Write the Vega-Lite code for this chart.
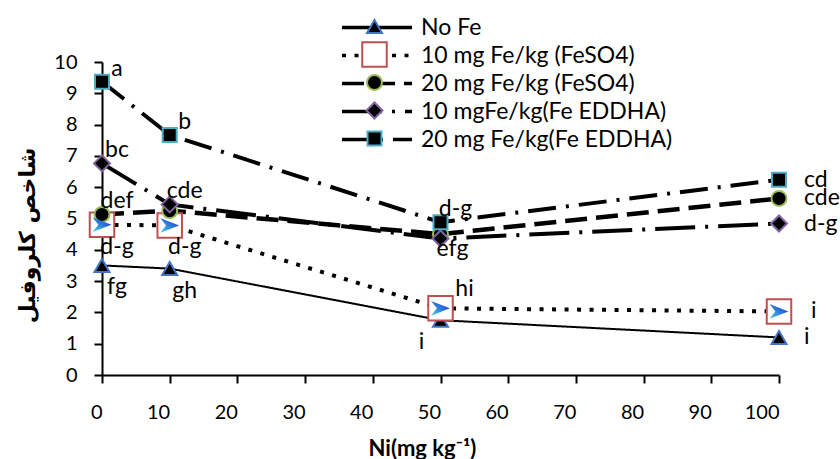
{
  "$schema": "https://vega.github.io/schema/vega-lite/v6.json",
  "width": 677,
  "height": 313,
  "autosize": {"type": "none"},
  "padding": {"left": 102, "top": 62, "right": 61, "bottom": 84},
  "background": "white",
  "config": {"view": {"stroke": null}, "font": "Lato"},
  "datasets": {
    "points": [
      {"series": "No Fe", "ni": 0, "value": 3.5},
      {"series": "No Fe", "ni": 10, "value": 3.4},
      {"series": "No Fe", "ni": 50, "value": 1.75},
      {"series": "No Fe", "ni": 100, "value": 1.2},
      {"series": "10 mg Fe/kg (FeSO4)", "ni": 0, "value": 4.8},
      {"series": "10 mg Fe/kg (FeSO4)", "ni": 10, "value": 4.78},
      {"series": "10 mg Fe/kg (FeSO4)", "ni": 50, "value": 2.13},
      {"series": "10 mg Fe/kg (FeSO4)", "ni": 100, "value": 2.03},
      {"series": "20 mg Fe/kg (FeSO4)", "ni": 0, "value": 5.13},
      {"series": "20 mg Fe/kg (FeSO4)", "ni": 10, "value": 5.25},
      {"series": "20 mg Fe/kg (FeSO4)", "ni": 50, "value": 4.5},
      {"series": "20 mg Fe/kg (FeSO4)", "ni": 100, "value": 5.64},
      {"series": "10 mgFe/kg(Fe EDDHA)", "ni": 0, "value": 6.76},
      {"series": "10 mgFe/kg(Fe EDDHA)", "ni": 10, "value": 5.45},
      {"series": "10 mgFe/kg(Fe EDDHA)", "ni": 50, "value": 4.36},
      {"series": "10 mgFe/kg(Fe EDDHA)", "ni": 100, "value": 4.84},
      {"series": "20 mg Fe/kg(Fe EDDHA)", "ni": 0, "value": 9.37},
      {"series": "20 mg Fe/kg(Fe EDDHA)", "ni": 10, "value": 7.67},
      {"series": "20 mg Fe/kg(Fe EDDHA)", "ni": 50, "value": 4.88},
      {"series": "20 mg Fe/kg(Fe EDDHA)", "ni": 100, "value": 6.24}
    ],
    "labels": [
      {"ni": 0, "value": 9.37, "letter": "a", "pos": "ne"},
      {"ni": 10, "value": 7.67, "letter": "b", "pos": "ne"},
      {"ni": 50, "value": 4.88, "letter": "d-g", "pos": "ne"},
      {"ni": 100, "value": 6.24, "letter": "cd", "pos": "e"},
      {"ni": 0, "value": 6.76, "letter": "bc", "pos": "ne"},
      {"ni": 10, "value": 5.45, "letter": "cde", "pos": "ne"},
      {"ni": 50, "value": 4.36, "letter": "efg", "pos": "s"},
      {"ni": 100, "value": 4.84, "letter": "d-g", "pos": "e"},
      {"ni": 0, "value": 5.13, "letter": "def", "pos": "ne"},
      {"ni": 100, "value": 5.64, "letter": "cde", "pos": "e"},
      {"ni": 0, "value": 4.8, "letter": "d-g", "pos": "se"},
      {"ni": 10, "value": 4.78, "letter": "d-g", "pos": "se"},
      {"ni": 50, "value": 2.13, "letter": "hi", "pos": "nee"},
      {"ni": 100, "value": 2.03, "letter": "i", "pos": "ee"},
      {"ni": 0, "value": 3.5, "letter": "fg", "pos": "se"},
      {"ni": 10, "value": 3.4, "letter": "gh", "pos": "se"},
      {"ni": 50, "value": 1.75, "letter": "i", "pos": "sw"},
      {"ni": 100, "value": 1.2, "letter": "i", "pos": "e"}
    ]
  },
  "encoding": {
    "x": {
      "field": "ni", "type": "quantitative",
      "scale": {"domain": [0, 100], "nice": false, "zero": false},
      "axis": {
        "values": [0, 10, 20, 30, 40, 50, 60, 70, 80, 90, 100],
        "grid": false, "tickSize": 8, "tickWidth": 2, "tickColor": "black",
        "domainColor": "black", "domainWidth": 2,
        "labelFontSize": 20, "labelColor": "black", "labelPadding": 19, "labelFont": "Lato",
        "labelAlign": "right",
        "title": "Ni(mg kg⁻¹)", "titleFontSize": 22, "titleFontWeight": "bold", "titleColor": "black", "titleFont": "Lato",
        "titlePadding": 16, "titleX": 320
      }
    },
    "y": {
      "field": "value", "type": "quantitative",
      "scale": {"domain": [0, 10], "nice": false},
      "axis": {
        "values": [0, 1, 2, 3, 4, 5, 6, 7, 8, 9, 10],
        "grid": false, "tickSize": 8, "tickWidth": 2, "tickColor": "black",
        "domainColor": "black", "domainWidth": 2,
        "labelFontSize": 20, "labelColor": "black", "labelPadding": 17, "labelFont": "Lato",
        "title": "شاخص کلروفیل", "titleFontSize": 22, "titleFontWeight": "bold", "titleColor": "black", "titleFont": "DejaVu Sans",
        "titlePadding": 14, "titleY": 173
      }
    }
  },
  "layer": [
    {
      "data": {"name": "points"},
      "mark": {"type": "line", "color": "black", "strokeCap": "butt"},
      "encoding": {
        "strokeDash": {
          "field": "series", "type": "nominal",
          "sort": {"field": "value", "op": "mean", "order": "ascending"},
          "scale": {"range": [[1, 0], [4, 8.5], [22, 9], [40, 10, 3, 10], [28, 10, 3, 10]]},
          "legend": {
            "orient": "none", "legendX": 238, "legendY": -45, "title": null,
            "symbolType": "stroke", "symbolSize": 4900, "symbolStrokeColor": "black", "symbolStrokeWidth": 3.5,
            "labelFontSize": 23, "labelColor": "black", "labelFont": "Lato", "labelLimit": 400,
            "rowPadding": 4, "labelOffset": 7, "clipHeight": 21
          }
        },
        "strokeWidth": {
          "field": "series", "type": "nominal",
          "scale": {
            "type": "ordinal",
            "domain": ["No Fe", "10 mg Fe/kg (FeSO4)", "20 mg Fe/kg (FeSO4)", "10 mgFe/kg(Fe EDDHA)", "20 mg Fe/kg(Fe EDDHA)"],
            "range": [2, 4, 4.5, 4, 4]
          },
          "legend": null
        }
      }
    },
    {
      "data": {"name": "points"},
      "mark": {"type": "point", "filled": true, "strokeWidth": 2, "opacity": 1},
      "encoding": {
        "shape": {
          "field": "series", "type": "nominal",
          "sort": {"field": "value", "op": "max", "order": "ascending"},
          "scale": {"range": ["triangle-up", "square", "circle", "diamond", "square"]},
          "legend": {
            "orient": "none", "legendX": 259, "legendY": -49, "title": null,
            "labelOpacity": 0, "labelFontSize": 12, "rowPadding": 1, "clipHeight": 27, "symbolStrokeWidth": 2
          }
        },
        "fill": {
          "field": "series", "type": "nominal",
          "sort": {"field": "value", "op": "max", "order": "ascending"},
          "scale": {"range": ["black", "white", "black", "black", "black"]},
          "legend": {
            "orient": "none", "legendX": 259, "legendY": -49, "title": null,
            "labelOpacity": 0, "labelFontSize": 12, "rowPadding": 1, "clipHeight": 27, "symbolStrokeWidth": 2
          }
        },
        "stroke": {
          "field": "series", "type": "nominal",
          "sort": {"field": "value", "op": "max", "order": "ascending"},
          "scale": {"range": ["#4472C4", "#C0504D", "#9BBB59", "#8064A2", "#4BACC6"]},
          "legend": {
            "orient": "none", "legendX": 259, "legendY": -49, "title": null,
            "labelOpacity": 0, "labelFontSize": 12, "rowPadding": 1, "clipHeight": 27, "symbolStrokeWidth": 2
          }
        },
        "size": {
          "field": "series", "type": "nominal",
          "sort": {"field": "value", "op": "max", "order": "ascending"},
          "scale": {"type": "ordinal", "range": [225, 600, 225, 256, 196]},
          "legend": {
            "orient": "none", "legendX": 259, "legendY": -49, "title": null,
            "labelOpacity": 0, "labelFontSize": 12, "rowPadding": 1, "clipHeight": 27, "symbolStrokeWidth": 2
          }
        }
      }
    },
    {
      "data": {"name": "points"},
      "transform": [{"filter": "datum.series === '10 mg Fe/kg (FeSO4)'"}],
      "mark": {
        "type": "point", "filled": true, "size": 440, "opacity": 1,
        "shape": "M -0.9 -0.7 L 0.9 0 L -0.9 0.7 L -0.35 0 Z",
        "fill": {"gradient": "linear", "x1": 0, "y1": 1, "x2": 1, "y2": 0, "stops": [{"offset": 0, "color": "#45D0F0"}, {"offset": 0.6, "color": "#2A6AD8"}, {"offset": 1, "color": "#1428B0"}]},
        "strokeWidth": 0
      },
      "encoding": {}
    },
    {
      "data": {"name": "labels"},
      "transform": [{"filter": "datum.pos === 'ne'"}],
      "mark": {"type": "text", "dx": 15, "dy": -13, "align": "center", "baseline": "middle", "fontSize": 23, "font": "Lato", "color": "black"},
      "encoding": {"text": {"field": "letter"}}
    },
    {
      "data": {"name": "labels"},
      "transform": [{"filter": "datum.pos === 'nee'"}],
      "mark": {"type": "text", "dx": 24, "dy": -19, "align": "center", "baseline": "middle", "fontSize": 23, "font": "Lato", "color": "black"},
      "encoding": {"text": {"field": "letter"}}
    },
    {
      "data": {"name": "labels"},
      "transform": [{"filter": "datum.pos === 'se'"}],
      "mark": {"type": "text", "dx": 15, "dy": 22, "align": "center", "baseline": "middle", "fontSize": 23, "font": "Lato", "color": "black"},
      "encoding": {"text": {"field": "letter"}}
    },
    {
      "data": {"name": "labels"},
      "transform": [{"filter": "datum.pos === 's'"}],
      "mark": {"type": "text", "dx": 12, "dy": 10, "align": "center", "baseline": "middle", "fontSize": 23, "font": "Lato", "color": "black"},
      "encoding": {"text": {"field": "letter"}}
    },
    {
      "data": {"name": "labels"},
      "transform": [{"filter": "datum.pos === 'sw'"}],
      "mark": {"type": "text", "dx": -19, "dy": 22, "align": "center", "baseline": "middle", "fontSize": 23, "font": "Lato", "color": "black"},
      "encoding": {"text": {"field": "letter"}}
    },
    {
      "data": {"name": "labels"},
      "transform": [{"filter": "datum.pos === 'e'"}],
      "mark": {"type": "text", "dx": 25, "dy": 0, "align": "left", "baseline": "middle", "fontSize": 23, "font": "Lato", "color": "black"},
      "encoding": {"text": {"field": "letter"}}
    },
    {
      "data": {"name": "labels"},
      "transform": [{"filter": "datum.pos === 'ee'"}],
      "mark": {"type": "text", "dx": 32, "dy": 0, "align": "left", "baseline": "middle", "fontSize": 23, "font": "Lato", "color": "black"},
      "encoding": {"text": {"field": "letter"}}
    }
  ]
}
